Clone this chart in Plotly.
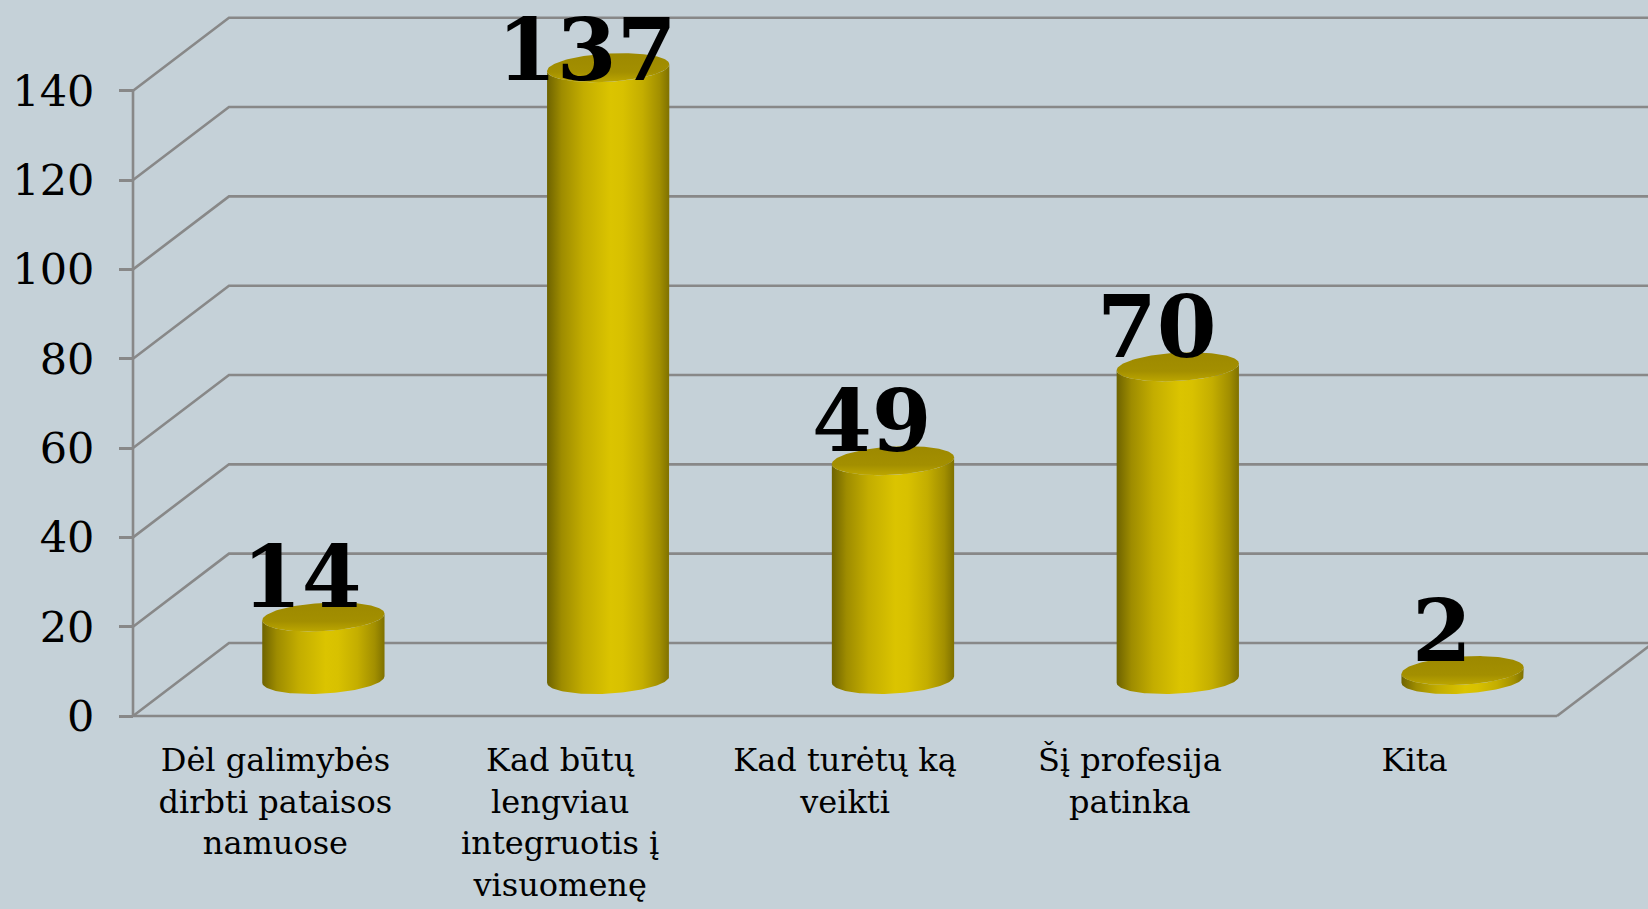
import numpy as np
import plotly.graph_objects as go

# ---------------- data ----------------
categories = [
    "Dėl galimybės<br>dirbti pataisos<br>namuose",
    "Kad būtų<br>lengviau<br>integruotis į<br>visuomenę",
    "Kad turėtų ką<br>veikti",
    "Šį profesija<br>patinka",
    "Kita",
]
values = [14, 137, 49, 70, 2]
y_ticks = [0, 20, 40, 60, 80, 100, 120, 140]

# ---------------- geometry / style ----------------
W, H = 1648, 909
ORIGIN_X, ORIGIN_Y = 133, 716       # pixel of front-left-bottom corner
CAT_PX = 284.8                      # pixels per category
VAL_PX = 4.466                      # pixels per value unit
L_MARGIN, B_MARGIN = 127, 186
DEPTH_X = 0.337                     # depth offset in category units
DEPTH_Y = 16.35                     # depth offset in value units
CYL_R = 0.209                       # cylinder radius (category units)
CYL_SKEW = 0.049                    # ellipse skew (category units)
CYL_B = 3.25                        # ellipse vertical semi-axis (value units)
LABEL_DX = 0.095
LABEL_DY = 17.2
LABEL_TOP_PAD = 11.0                # keep labels inside the chart (value units)

BG = "#C5D1D8"
GRID = "#888888"
FONT = "DejaVu Serif"

n = len(categories)
x0 = -0.5 - (ORIGIN_X - L_MARGIN) / CAT_PX
x1 = -0.5 + (W - ORIGIN_X) / CAT_PX
plot_h = H - B_MARGIN
y0 = -(plot_h - ORIGIN_Y) / VAL_PX
y1 = ORIGIN_Y / VAL_PX

fig = go.Figure()

# ---------- walls / grid ----------
gx, gy = [], []
left = -0.5
right = n - 0.5
for v in y_ticks:
    gx += [left, left + DEPTH_X, right + DEPTH_X + 0.2, None]
    gy += [v, v + DEPTH_Y, v + DEPTH_Y, None]
# floor right edge, front edge, front vertical axis
gx += [right, right + DEPTH_X, None, left, right, None, left, left]
gy += [0, DEPTH_Y, None, 0, 0, None, 0, y_ticks[-1]]
fig.add_trace(go.Scatter(x=gx, y=gy, mode="lines",
                         line=dict(color=GRID, width=2.6),
                         hoverinfo="skip", showlegend=False))

# ---------- cylinders ----------
side_scale = [
    [0.0, "#6E6300"], [0.12, "#9E8C00"], [0.3, "#C3AD00"],
    [0.52, "#DBC400"], [0.62, "#D8C100"], [0.78, "#C4AE00"],
    [0.92, "#A28F00"], [1.0, "#7F7100"],
]
top_scale = [[0.0, "#BCA600"], [0.35, "#A38F00"], [1.0, "#9D8900"]]

th_r = np.arctan2(CYL_SKEW, CYL_R)
for i, v in enumerate(values):
    cx = i + DEPTH_X / 2
    cy0 = DEPTH_Y / 2
    cy1 = DEPTH_Y / 2 + v
    t_top = np.linspace(th_r - np.pi, th_r, 80)
    t_bot = t_top[::-1]
    sx = np.concatenate([cx + CYL_R * np.cos(t_top) + CYL_SKEW * np.sin(t_top),
                         cx + CYL_R * np.cos(t_bot) + CYL_SKEW * np.sin(t_bot)])
    sy = np.concatenate([cy1 + CYL_B * np.sin(t_top),
                         cy0 + CYL_B * np.sin(t_bot)])
    fig.add_trace(go.Scatter(x=sx, y=sy, mode="lines", fill="toself",
                             line=dict(width=0),
                             fillgradient=dict(type="horizontal", colorscale=side_scale),
                             hoverinfo="skip", showlegend=False))
    t = np.linspace(0, 2 * np.pi, 160)
    fig.add_trace(go.Scatter(x=cx + CYL_R * np.cos(t) + CYL_SKEW * np.sin(t),
                             y=cy1 + CYL_B * np.sin(t),
                             mode="lines", fill="toself", line=dict(width=0),
                             fillgradient=dict(type="vertical", colorscale=top_scale),
                             hoverinfo="skip", showlegend=False))
    fig.add_annotation(x=i + LABEL_DX, y=min(v + LABEL_DY, y1 - LABEL_TOP_PAD),
                       text=str(v), showarrow=False, xanchor="center", yanchor="middle",
                       font=dict(family=FONT, size=86, color="black", weight="bold"))

yaxis_pos = (ORIGIN_X - L_MARGIN) / (W - L_MARGIN)
xaxis_pos = (plot_h - ORIGIN_Y) / plot_h

fig.update_layout(
    width=W, height=H,
    margin=dict(l=L_MARGIN, r=0, t=0, b=B_MARGIN),
    paper_bgcolor=BG, plot_bgcolor=BG,
    showlegend=False,
    xaxis=dict(range=[x0, x1], tickvals=list(range(n)), ticktext=categories,
               ticks="", showline=False, showgrid=False, zeroline=False,
               anchor="free", position=xaxis_pos, ticklabelstandoff=22,
               tickfont=dict(family=FONT, size=32, color="black")),
    xaxis2=dict(range=[x0, x1], overlaying="x", anchor="free", position=xaxis_pos,
                side="bottom", tickvals=[k - 0.5 for k in range(n + 1)],
                ticks="outside", ticklen=9, tickwidth=2.5, tickcolor=GRID,
                showticklabels=False, showline=False, showgrid=False, zeroline=False),
    yaxis=dict(range=[y0, y1], tickvals=y_ticks, ticks="outside", ticklen=14,
               tickwidth=2.5, tickcolor=GRID, showline=False, showgrid=False,
               zeroline=False, anchor="free", position=yaxis_pos,
               ticklabelstandoff=16,
               tickfont=dict(family=FONT, size=43, color="black")),
)

fig.write_html("out.html", config={"displayModeBar": False},
               post_script="document.body.style.margin='0';document.body.style.overflow='hidden';")
